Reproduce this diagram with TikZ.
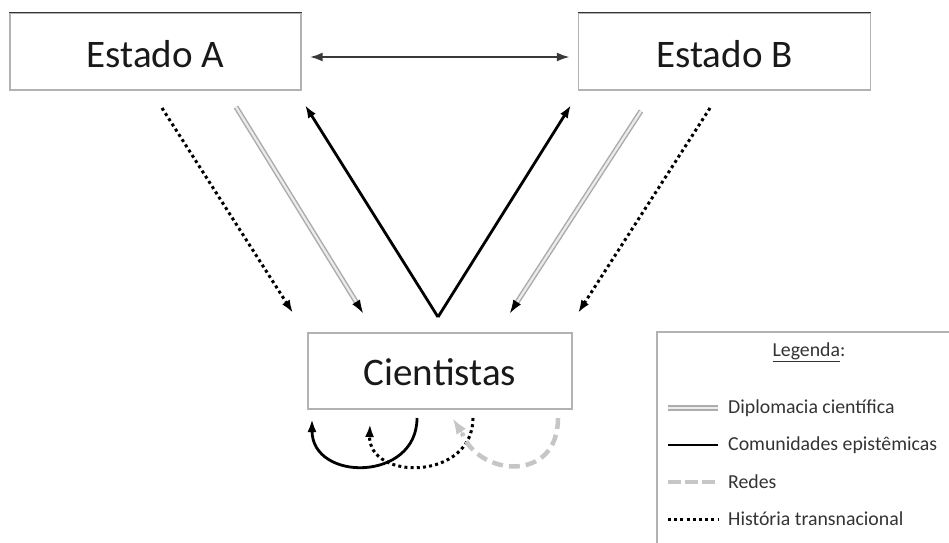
\documentclass[tikz,border=0pt]{standalone}
\usepackage{fontspec}
\setmainfont{Carlito}
\usetikzlibrary{arrows.meta}
\begin{document}
\begin{tikzpicture}[x=1pt,y=-1pt,
  boxnode/.style={draw=gray!60,line width=1.2pt,inner sep=0pt,font=\fontsize{39}{42}\selectfont,text=black!90,text depth=0pt},
  tip/.style={-{Latex[length=13pt,width=9pt]}},
  solidline/.style={black,line width=2.8pt},
  dotline/.style={black,line width=3pt,dash pattern=on 3pt off 3.2pt},
  dipline/.style={draw=gray!65,line width=1.5pt,double=gray!15,double distance=2.2pt},
  dashline/.style={gray!45,line width=4.5pt,dash pattern=on 11pt off 6pt},
  legtext/.style={anchor=west,inner sep=0pt,font=\fontsize{19.8}{21}\selectfont,text=black!80}
]
\useasboundingbox (0,0) rectangle (949,542);
% boxes
\node[boxnode,minimum width=291pt,minimum height=77pt,text height=32pt] (A) at (155.5,51.5) {Estado A};
\node[boxnode,minimum width=292pt,minimum height=77pt,text height=32pt] (B) at (724.5,51.5) {Estado B};
\node[boxnode,minimum width=264pt,minimum height=76pt,text height=28pt] (C) at (440,371) {Cientistas};
\draw[gray!40!black,line width=1.2pt] (A.north west) -- (A.north east);
\draw[gray!40!black,line width=1.2pt] (B.north west) -- (B.north east);
% horizontal arrow
\draw[gray!45!black,line width=2.4pt,{Latex[length=13pt,width=9pt]}-{Latex[length=13pt,width=9pt]}]
  ([xshift=8pt,yshift=-5.5pt]A.east) -- ([xshift=-8pt,yshift=-5.5pt]B.west);
% coordinates
\coordinate (a1s) at (162,108); \coordinate (a1e) at (293,313);
\coordinate (a2s) at (236,107); \coordinate (a2e) at (363,313);
\coordinate (v) at (438,317);
\coordinate (vA) at (305,105); \coordinate (vB) at (571,105);
\coordinate (b2s) at (641,111); \coordinate (b2e) at (510,313);
\coordinate (b3s) at (710,108); \coordinate (b3e) at (578,313);
% dotted arrows
\draw[dotline,tip] (a1s) -- (a1e);
\draw[dotline,tip] (b3s) -- (b3e);
% double arrows
\draw[dipline,shorten >=10pt] (a2s) -- (a2e);
\path (a2s) -- (a2e) coordinate[pos=0.96] (a2m);
\draw[black,line width=0.8pt,tip] (a2m) -- (a2e);
\draw[dipline,shorten >=10pt] (b2s) -- (b2e);
\path (b2s) -- (b2e) coordinate[pos=0.96] (b2m);
\draw[black,line width=0.8pt,tip] (b2m) -- (b2e);
% V arrows
\draw[solidline,tip] (v) -- (vA);
\draw[solidline,tip] (v) -- (vB);
% loops under Cientistas
\coordinate (l1s) at (417,418); \coordinate (l1e) at (312,419);
\coordinate (l2s) at (473,418); \coordinate (l2e) at (370,424);
\coordinate (l3s) at (558,418); \coordinate (l3e) at (453,419);
\draw[solidline,tip] (l1s) .. controls (417,482) and (312,482) .. (l1e);
\draw[dotline,tip] (l2s) .. controls (473,481) and (368,481) .. (l2e);
\draw[dashline] (l3s) .. controls (558,484) and (478,476) .. ([shift={(9pt,-14pt)}]l3e);
\draw[gray!45,line width=1pt,-{Latex[length=15pt,width=11pt]}] ([shift={(11pt,-17pt)}]l3e) -- (l3e);
% legend
\draw[gray!60,line width=1.2pt] (657,560) -- (657,332) -- (960,332);
\node[legtext,anchor=center] (lt) at (809,352) {\underline{Legenda}:};
\coordinate (g1s) at (668,408); \coordinate (g1e) at (718,408);
\coordinate (g2s) at (668,445); \coordinate (g2e) at (718,445);
\coordinate (g3s) at (668,482); \coordinate (g3e) at (718,482);
\coordinate (g4s) at (668,519); \coordinate (g4e) at (718,519);
\draw[dipline] (g1s) -- (g1e);
\draw[solidline] (g2s) -- (g2e);
\draw[dashline,dash pattern=on 13pt off 4pt] (g3s) -- (g3e);
\draw[dotline] (g4s) -- (g4e);
\node[legtext] (t1) at (728,408) {Diplomacia científica};
\node[legtext] (t2) at (728,445) {Comunidades epistêmicas};
\node[legtext] (t3) at (728,482) {Redes};
\node[legtext] (t4) at (728,519) {História transnacional};
\end{tikzpicture}
\end{document}
